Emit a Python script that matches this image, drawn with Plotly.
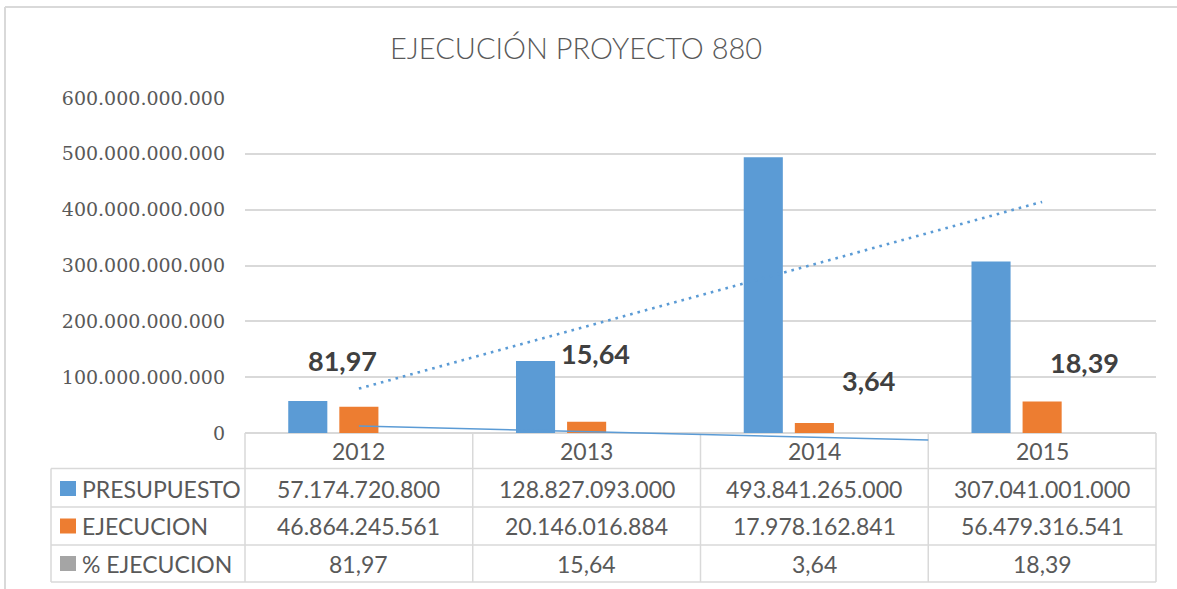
import numpy as np
import plotly.graph_objects as go

# ---------------- data ----------------
years = ["2012", "2013", "2014", "2015"]
presupuesto = [57174720800, 128827093000, 493841265000, 307041001000]
ejecucion = [46864245561, 20146016884, 17978162841, 56479316541]
pct_ejecucion = [81.97, 15.64, 3.64, 18.39]
series_names = ["PRESUPUESTO", "EJECUCION", "% EJECUCION"]
y_tick_vals = [0, 100e9, 200e9, 300e9, 400e9, 500e9, 600e9]

# ---------------- styling / layout ----------------
W, H = 1177, 589
L, R, T, B = 245, 1156, 98, 445          # plot-area pixel box
BLUE, ORANGE, GRAY = "#5B9BD5", "#ED7D31", "#A5A5A5"
GRID = "#D9D9D9"
TXT = "#595959"
FONT = "Lato"


def fmt_int(v):
    return f"{int(v):,}".replace(",", ".")


def fmt_pct(v):
    return f"{v:.2f}".replace(".", ",")


def px(x):
    return (x - L) / (R - L)


def py(y):
    return (B - y) / (B - T)


xs = list(range(len(years)))

fig = go.Figure()
fig.add_bar(x=xs, y=presupuesto, name=series_names[0], marker_color=BLUE,
            marker_line_width=0)
fig.add_bar(x=xs, y=ejecucion, name=series_names[1], marker_color=ORANGE,
            marker_line_width=0)
fig.add_bar(x=xs, y=pct_ejecucion, name=series_names[2], marker_color=GRAY,
            marker_line_width=0)

# linear trend of PRESUPUESTO (dotted)
c1 = np.polyfit(xs, presupuesto, 1)
tx = np.array([xs[0], xs[-1]], dtype=float)
fig.add_scatter(x=tx, y=np.polyval(c1, tx), mode="lines",
                line=dict(color=BLUE, width=2.6, dash="2.6px,5px"),
                hoverinfo="skip", showlegend=False)

# linear trend of % EJECUCION (thin solid, secondary axis)
c2 = np.polyfit(xs, pct_ejecucion, 1)
tx2 = np.array([xs[0], 2.5])
fig.add_scatter(x=tx2, y=np.polyval(c2, tx2), mode="lines", yaxis="y2",
                line=dict(color=BLUE, width=1.5),
                hoverinfo="skip", showlegend=False)

# y ranges so that 0 sits at pixel 433 and 600e9 at pixel 98
ppu = (433 - 98) / 600e9
ymin = -(B - 433) / ppu
# secondary axis: trend drawn from pixel (x0, 426) down to (x2.5, 440)
v0, v1 = np.polyval(c2, 0), np.polyval(c2, 2.5)
k = (440 - 426) / (v0 - v1)
zero2 = 426 + v0 * k
y2min = -(B - zero2) / k
y2max = (zero2 - T) / k

shapes = []
line_style = dict(color=GRID, width=1.5)
# outer chart frame (top and left)
shapes.append(dict(type="line", xref="paper", yref="paper", x0=px(5), x1=px(1177),
                   y0=py(7), y1=py(7), line=dict(color=GRID, width=2)))
shapes.append(dict(type="line", xref="paper", yref="paper", x0=px(5), x1=px(5),
                   y0=py(7), y1=py(589), line=dict(color=GRID, width=2)))
# data table
row_lines = [433, 468.5, 507, 545, 582]
col_w = (R - L) / 4
for i, yy in enumerate(row_lines):
    x0 = L if i == 0 else 51
    shapes.append(dict(type="line", xref="paper", yref="paper", x0=px(x0), x1=px(R),
                       y0=py(yy), y1=py(yy), line=line_style, layer="below"))
shapes.append(dict(type="line", xref="paper", yref="paper", x0=px(51), x1=px(51),
                   y0=py(468.5), y1=py(582), line=line_style, layer="below"))
for kx in range(5):
    xx = L + kx * col_w
    shapes.append(dict(type="line", xref="paper", yref="paper", x0=px(xx), x1=px(xx),
                       y0=py(433), y1=py(582), line=line_style, layer="below"))

annotations = []
row_centers = [451, 488.5, 526, 563.5]
tfont = dict(family=FONT, size=23, color=TXT)
for i, yr in enumerate(years):
    cx = L + (i + 0.5) * col_w
    annotations.append(dict(xref="paper", yref="paper", x=px(cx), y=py(row_centers[0]),
                            text=yr, showarrow=False, font=tfont,
                            xanchor="center", yanchor="middle"))
    vals = [fmt_int(presupuesto[i]), fmt_int(ejecucion[i]), fmt_pct(pct_ejecucion[i])]
    for r, v in enumerate(vals):
        annotations.append(dict(xref="paper", yref="paper", x=px(cx),
                                y=py(row_centers[r + 1]), text=v, showarrow=False,
                                font=tfont, xanchor="center", yanchor="middle"))
for r, (nm, col) in enumerate(zip(series_names, [BLUE, ORANGE, GRAY])):
    yc = row_centers[r + 1]
    shapes.append(dict(type="rect", xref="paper", yref="paper", x0=px(60), x1=px(76),
                       y0=py(yc - 7.5), y1=py(yc + 7.5), fillcolor=col,
                       line=dict(width=0)))
    annotations.append(dict(xref="paper", yref="paper", x=px(80), y=py(yc), text=nm,
                            showarrow=False, font=tfont, xanchor="left",
                            yanchor="middle"))

# bold data labels of % EJECUCION (manually placed in the original)
label_dx = [-0.074, 0.041, 0.236, 0.186]
label_y = [129e9, 142e9, 94e9, 127e9]
for i, v in enumerate(pct_ejecucion):
    annotations.append(dict(xref="x", yref="y", x=xs[i] + label_dx[i], y=label_y[i],
                            text=fmt_pct(v), showarrow=False,
                            font=dict(family=FONT, size=27, color="#404040", weight="bold"),
                            xanchor="center", yanchor="middle"))

# title
annotations.append(dict(xref="paper", yref="paper", x=px(575.5), y=py(48),
                        text="EJECUCIÓN PROYECTO 880", showarrow=False,
                        font=dict(family=FONT, size=29, color=TXT, weight=300),
                        xanchor="center", yanchor="middle"))

fig.update_layout(
    width=W, height=H,
    margin=dict(l=L, r=W - R, t=T, b=H - B, pad=0),
    paper_bgcolor="white", plot_bgcolor="white",
    barmode="group", bargap=0.327, bargroupgap=0.235,
    showlegend=False,
    xaxis=dict(range=[-0.5, 3.5], showticklabels=False, showgrid=False,
               zeroline=False, showline=False, fixedrange=True),
    yaxis=dict(range=[ymin, 600e9], tickvals=y_tick_vals,
               ticktext=[fmt_int(v) for v in y_tick_vals],
               showgrid=True, gridcolor=GRID, gridwidth=1.5, zeroline=False,
               showline=False, ticks="", ticklabelstandoff=19,
               tickfont=dict(family="DejaVu Serif", size=19, color=TXT)),
    yaxis2=dict(range=[y2min, y2max], overlaying="y", side="right", visible=False),
    shapes=shapes, annotations=annotations,
)

fig.write_html("out.html",
               config={"displayModeBar": False},
               post_script="document.body.style.margin='0';"
                           "document.body.style.overflow='hidden';")
